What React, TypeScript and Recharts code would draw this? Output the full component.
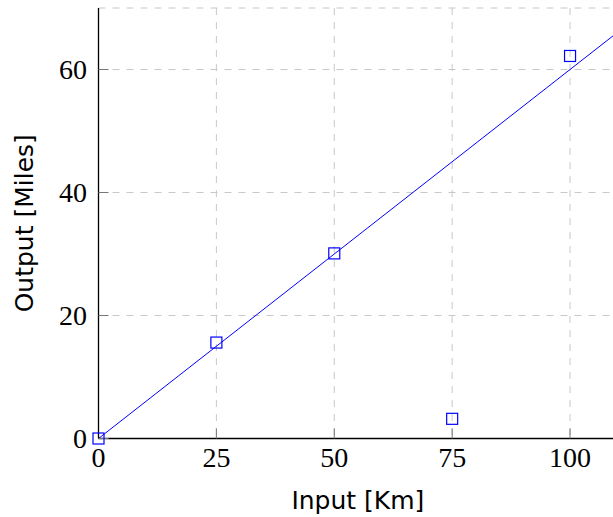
import React from 'react';
import { ComposedChart, Line, Scatter, XAxis, YAxis, CartesianGrid } from 'recharts';

const inputKm = [0, 25, 50, 75, 100];
const outputMiles = [0, 15.6, 30.1, 3.2, 62.2];
const fitX = [0, 110];
const fitY = [0, 66];
const xTicks = [0, 25, 50, 75, 100];
const yTicks = [0, 20, 40, 60];
const xDomain = [0, 110];
const yDomain = [0, 70];
const xLabel = 'Input [Km]';
const yLabel = 'Output [Miles]';

const points = inputKm.map((x, i) => ({ x, y: outputMiles[i] }));
const fitLine = fitX.map((x, i) => ({ x, fit: fitY[i] }));

const BLUE = '#0000ff';
const SERIF = '"Liberation Serif", "DejaVu Serif", serif';
const SANS = '"DejaVu Sans", sans-serif';

const Square = (props: any) => {
  const { cx, cy } = props;
  if (cx == null || cy == null) return null;
  return <rect x={cx - 5.5} y={cy - 5.5} width={11} height={11} fill="none" stroke={BLUE} strokeWidth={1.2} />;
};

const YLabel = (props: any) => {
  const vb = props.viewBox || {};
  const cy = vb.y + vb.height / 2;
  const x = 33.3;
  return (
    <text x={x} y={cy} transform={`rotate(-90, ${x}, ${cy})`} textAnchor="middle" fill="#000" fontFamily={SANS} fontSize={25}>
      {yLabel}
    </text>
  );
};

export default function App() {
  return (
    <div style={{ position: 'absolute', left: 0, top: 0, width: 613, height: 517, overflow: 'hidden', background: '#fff' }}>
      <ComposedChart width={630} height={517} margin={{ top: 8, right: 12.8, bottom: 0, left: 0 }}>
        <CartesianGrid stroke="#c8c8c8" strokeDasharray="7 7" strokeWidth={1} />
        <XAxis
          dataKey="x"
          type="number"
          domain={xDomain}
          ticks={xTicks}
          height={78.5}
          tickSize={-10}
          tickMargin={19}
          axisLine={{ stroke: '#000', strokeWidth: 1.3 }}
          tickLine={{ stroke: '#777', strokeWidth: 1 }}
          tick={{ fill: '#000', fontSize: 28, fontFamily: SERIF }}
          label={{ value: xLabel, position: 'insideBottom', offset: 7.7, fill: '#000', fontSize: 25, fontFamily: SANS }}
        />
        <XAxis
          xAxisId="top"
          orientation="top"
          type="number"
          domain={xDomain}
          ticks={xTicks}
          height={0}
          tickSize={-10}
          tick={false}
          axisLine={{ stroke: '#000', strokeWidth: 1.3 }}
          tickLine={{ stroke: '#777', strokeWidth: 1 }}
        />
        <YAxis
          type="number"
          domain={yDomain}
          ticks={yTicks}
          width={98.5}
          tickSize={-10}
          tickMargin={21.5}
          axisLine={{ stroke: '#000', strokeWidth: 1.3 }}
          tickLine={{ stroke: '#777', strokeWidth: 1 }}
          tick={{ fill: '#000', fontSize: 28, fontFamily: SERIF }}
          label={<YLabel />}
        />
        <YAxis
          yAxisId="right"
          orientation="right"
          type="number"
          domain={yDomain}
          ticks={yTicks}
          width={0}
          tickSize={-10}
          tick={false}
          axisLine={{ stroke: '#000', strokeWidth: 1.3 }}
          tickLine={{ stroke: '#777', strokeWidth: 1 }}
        />
        <Line data={fitLine} dataKey="fit" type="linear" stroke={BLUE} strokeWidth={1} dot={false} isAnimationActive={false} />
        <Scatter data={points} dataKey="y" shape={<Square />} isAnimationActive={false} />
      </ComposedChart>
    </div>
  );
}
